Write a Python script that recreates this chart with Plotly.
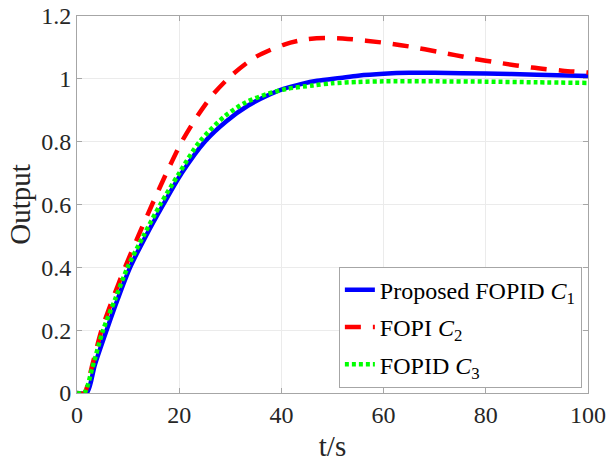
import plotly.graph_objects as go

# ---- data ----
t_c1 = [0, 1.9, 3.5, 5.8, 8, 10.4, 13.5, 16.9, 20.5, 25, 29.3, 33.5, 37.8, 40.4, 44, 47, 51.5, 55, 60, 65, 70, 80, 90, 100]
y_c1 = [0, 0, 0.09, 0.2, 0.3, 0.4, 0.5, 0.6, 0.7, 0.8, 0.866, 0.915, 0.951, 0.968, 0.984, 0.994, 1.003, 1.01, 1.016, 1.019, 1.019, 1.017, 1.013, 1.009]

t_c2 = [0, 1.4, 3, 4.8, 7, 9.4, 12, 14.7, 17.5, 20.5, 23.5, 26.4, 30.1, 35, 40.7, 45, 48.5, 53, 60, 65, 71, 77, 83, 89, 95, 100]
y_c2 = [0, 0, 0.09, 0.2, 0.3, 0.4, 0.5, 0.6, 0.7, 0.8, 0.88, 0.946, 1.009, 1.07, 1.11, 1.126, 1.13, 1.127, 1.115, 1.103, 1.085, 1.066, 1.05, 1.036, 1.026, 1.02]

t_c3 = [0, 1.4, 3, 5.1, 7.5, 9.9, 13, 16.3, 20, 24, 29, 33, 37.1, 41, 46.2, 50, 55, 60, 70, 80, 90, 100]
y_c3 = [0, 0, 0.08, 0.2, 0.3, 0.4, 0.5, 0.6, 0.7, 0.8, 0.882, 0.925, 0.951, 0.968, 0.979, 0.986, 0.99, 0.992, 0.992, 0.991, 0.989, 0.987]

names = ["Proposed FOPID <i>C</i><sub>1</sub>", "FOPI <i>C</i><sub>2</sub>", "FOPID <i>C</i><sub>3</sub>"]

x_ticks = [0, 20, 40, 60, 80, 100]
x_labels = ["0", "20", "40", "60", "80", "100"]
y_ticks = [0, 0.2, 0.4, 0.6, 0.8, 1.0, 1.2]
y_labels = ["0", "0.2", "0.4", "0.6", "0.8", "1", "1.2"]

FONT = "Liberation Serif, Times New Roman, serif"

fig = go.Figure()
fig.add_trace(go.Scatter(x=t_c1, y=y_c1, mode="lines", name=names[0], legendgroup="a",
                         line=dict(color="#0000FF", width=4.5, shape="spline", smoothing=0.8)))
fig.add_trace(go.Scatter(x=t_c2, y=y_c2, mode="lines", name=names[1], legendgroup="b",
                         line=dict(color="#FF0000", width=4.5, dash="16px,12px", shape="spline", smoothing=0.8)))
fig.add_trace(go.Scatter(x=t_c3, y=y_c3, mode="lines", name=names[2], legendgroup="c",
                         line=dict(color="#00FF00", width=4.5, dash="4px,3px", shape="spline", smoothing=0.8)))

axis_common = dict(showline=True, linecolor="#A6A6A6", linewidth=1, mirror="ticks",
                   ticks="inside", ticklen=5, tickcolor="#A6A6A6", automargin=False,
                   showgrid=True, gridcolor="#EBEBEB", gridwidth=1, zeroline=False,
                   tickfont=dict(family=FONT, size=24, color="#262626"))

fig.update_xaxes(range=[0, 100], tickvals=x_ticks, ticktext=x_labels,
                 title=dict(text="t/s", font=dict(family=FONT, size=29, color="#262626"), standoff=8),
                 **axis_common)
fig.update_yaxes(range=[0, 1.2], tickvals=y_ticks, ticktext=y_labels,
                 title=dict(text="Output", font=dict(family=FONT, size=29, color="#262626"), standoff=2),
                 **axis_common)

fig.update_layout(
    width=608, height=464,
    margin=dict(l=77, r=20, t=16, b=71),
    paper_bgcolor="white", plot_bgcolor="white",
    showlegend=True,
    legend=dict(x=0.988, y=0.335, xanchor="right", yanchor="top",
                bgcolor="white", bordercolor="#A6A6A6", borderwidth=1,
                font=dict(family=FONT, size=24, color="#000000"),
                itemwidth=30, traceorder="grouped", tracegroupgap=3),
)

fig.write_html("out.html", config={"displayModeBar": False},
               post_script="document.body.style.margin='0';document.body.style.overflow='hidden';")
